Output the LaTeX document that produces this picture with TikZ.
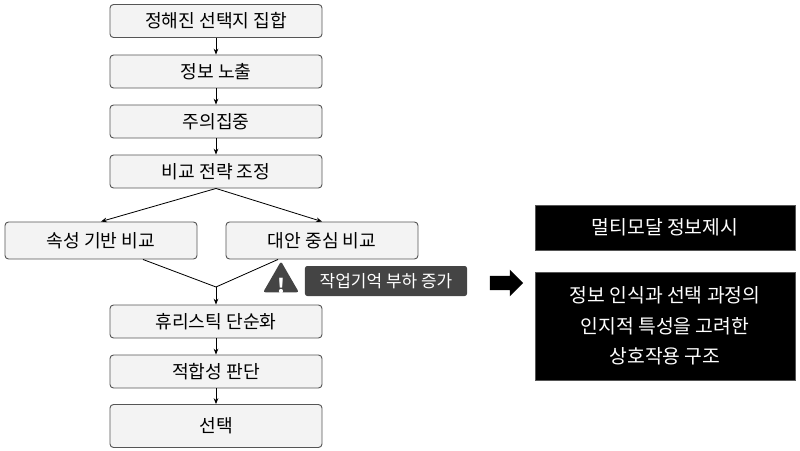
\documentclass[tikz,border=0pt]{standalone}
\usepackage{fontspec}
\setmainfont{Noto Sans CJK KR}
\usetikzlibrary{positioning,arrows.meta,shapes.geometric,shapes.arrows}
\definecolor{boxfill}{HTML}{F3F3F3}
\definecolor{boxline}{HTML}{555555}
\definecolor{warnfill}{HTML}{444444}
\tikzset{
  stage/.style={draw=boxline, fill=boxfill, rounded corners=3pt, line width=0.8pt,
    minimum width=6.36cm, minimum height=0.99cm, font=\fontsize{15.5}{17}\selectfont},
  side/.style={stage, minimum width=5.76cm, minimum height=1.11cm},
  dark/.style={fill=black, draw=boxline, text=white, minimum width=7.8cm,
    font=\fontsize{16.5}{26}\selectfont, align=center},
  flow/.style={-{Stealth[length=5pt,width=4pt]}, line width=0.7pt}
}
\begin{document}
\begin{tikzpicture}[x=0.03cm,y=-0.03cm]
\useasboundingbox (0,0) rectangle (800,451);
% main column
\node[stage] (set) at (216,21) {정해진 선택지 집합};
\node[stage] (expo) at (216,71.5) {정보 노출};
\node[stage] (attn) at (216,121.5) {주의집중};
\node[stage] (strat) at (216,171.5) {비교 전략 조정};
\node[side] (attr) at (101,240.5) {속성 기반 비교};
\node[side] (alt) at (322,240.5) {대안 중심 비교};
\coordinate (merge) at (216,287);
\node[stage] (heur) at (216,321.5) {휴리스틱 단순화};
\node[stage] (fit) at (216,371.5) {적합성 판단};
\node[stage, minimum height=1.29cm] (pick) at (216,426) {선택};
\draw[flow] (set) -- (expo);
\draw[flow] (expo) -- (attn);
\draw[flow] (attn) -- (strat);
\draw[flow] (strat.south) -- (attr.north);
\draw[flow] (strat.south) -- (alt.north);
\draw[line width=0.7pt] (attr.south) ++(42,0) -- (merge);
\draw[line width=0.7pt] (alt.south) ++(-44,0) -- (merge);
\draw[flow] (merge) -- (heur);
\draw[flow] (heur) -- (fit);
\draw[flow] (fit) -- (pick);
% warning
\node[isosceles triangle, isosceles triangle apex angle=60, shape border rotate=90,
  fill=warnfill, rounded corners=2pt, minimum height=0.93cm, inner sep=0pt] (warn) at (281,282) {};
\node[text=white, font=\bfseries\fontsize{17}{17}\selectfont] at (281,286) {!};
\node[fill=warnfill, text=white, rounded corners=2pt, minimum width=4.86cm, minimum height=0.9cm,
  font=\fontsize{14.5}{16}\selectfont] (load) at (386,281) {작업기억 부하 증가};
\node[single arrow, fill=black, minimum height=1.0cm, minimum width=0.8cm,
  single arrow head extend=0.12cm, inner sep=0.13cm] (go) at (503,283) {};
% right side
\node[dark, minimum height=1.35cm] (multi) at (665,227.5) {멀티모달 정보제시};
\node[dark, minimum height=3.24cm] (inter) at (665,326) {정보 인식과 선택 과정의\\인지적 특성을 고려한\\상호작용 구조};
\end{tikzpicture}
\end{document}
